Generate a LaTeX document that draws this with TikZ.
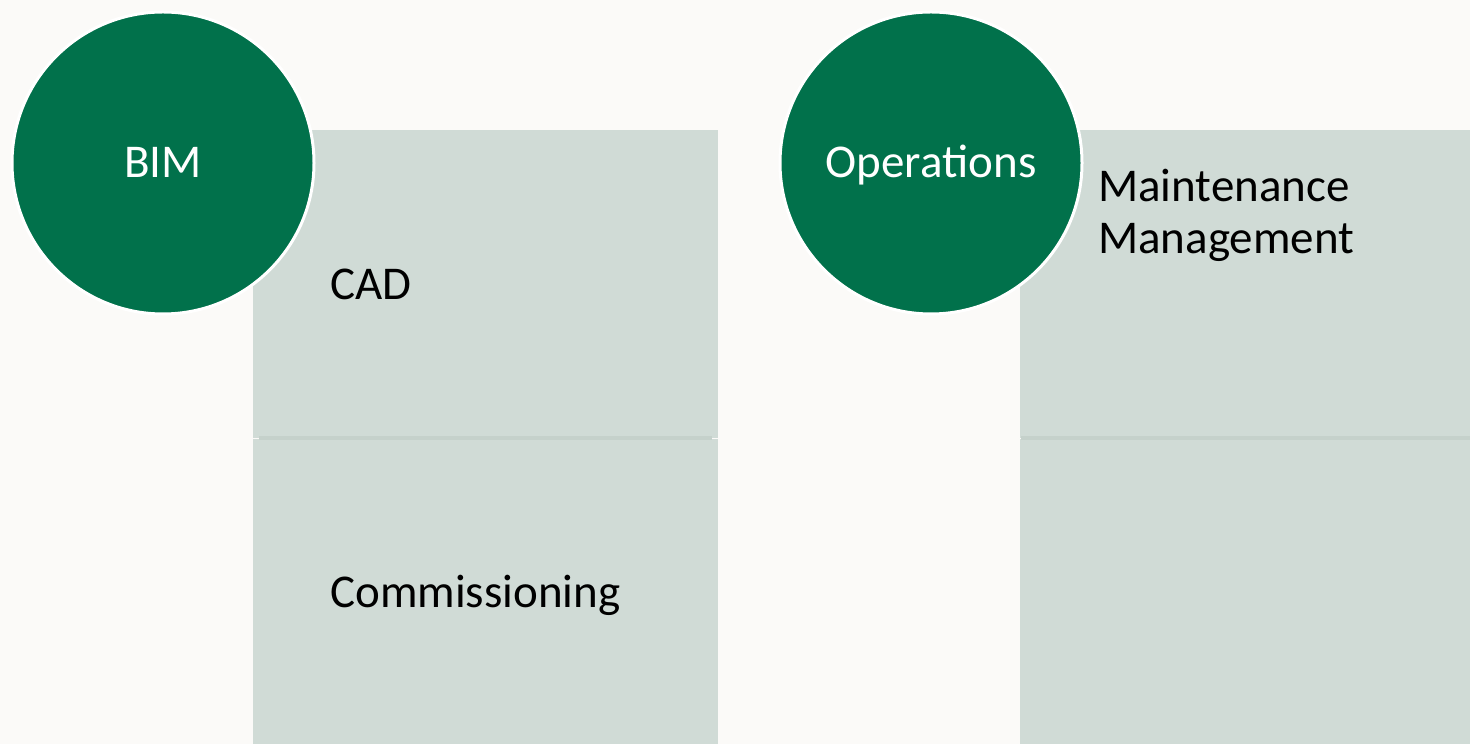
\documentclass[tikz,border=0pt]{standalone}
\usepackage{fontspec}
\setmainfont{Carlito}
\usepackage{xcolor}
\usepackage{tikz}
\usetikzlibrary{positioning}
\definecolor{SPaper}{HTML}{FBFAF8}
\definecolor{SGreen}{HTML}{01714B}
\definecolor{SPanel}{HTML}{D0DBD6}
\definecolor{SRule}{HTML}{C5D1CB}

\begin{document}
\begin{tikzpicture}[
  x=1pt,y=1pt,
  every node/.style={font=\fontsize{47}{52}\selectfont},
  panel/.style={fill=SPanel,minimum width=465pt,minimum height=308pt,
    inner xsep=77pt,text width=311pt,align=left,text depth=0pt,
    anchor=north west},
  hub/.style={circle,fill=SGreen,draw=white,line width=3pt,
    minimum size=302pt,inner sep=0pt,text=white,
    text height=30pt,text depth=0pt},
  rule/.style={draw=SRule,line width=4pt}
]
  \clip (0,0) rectangle (1470,744);
  \fill[SPaper] (0,0) rectangle (1470,744);

  % design column
  \node[panel] (cad) at (253,614) {CAD};
  \node[panel,below=0pt of cad,minimum height=306pt] (comm) {Commissioning};
  \draw[rule] ([xshift=6pt]comm.north west) -- ([xshift=-6pt]comm.north east);

  % operations column
  \node[panel] (maint) at (1020,614) {};
  \node[panel,below=0pt of maint,minimum height=306pt] (opslow) {};
  \draw[rule] ([xshift=1pt]opslow.north west) -- (opslow.north east);
  \node[anchor=north west,inner sep=0pt,align=left] (mainttext)
    at ([xshift=78pt,yshift=-39pt]maint.north west) {Maintenance\\Management};

  % hubs
  \node[hub] (bim) at (163,581) {BIM};
  \node[hub] (ops) at (931,581) {Operations};
\end{tikzpicture}
\end{document}
